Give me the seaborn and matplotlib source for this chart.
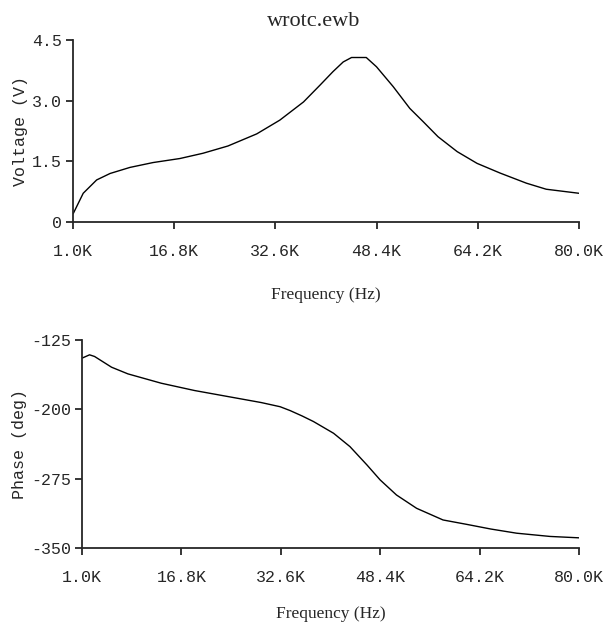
import numpy as np
import pandas as pd
import matplotlib
matplotlib.use("Agg")
import matplotlib.pyplot as plt
import seaborn as sns

# =====================================================
# DATA
# =====================================================
freq_v_khz = [1.05, 2.6, 4.7, 6.8, 9.9, 13.5, 17.7, 21.3, 25.2, 29.7,
              33.3, 37.0, 39.6, 41.6, 43.2, 44.5, 46.8, 48.4, 51.0, 53.6,
              55.7, 58.0, 61.0, 64.1, 67.7, 71.8, 74.9, 80.0]
voltage = [0.21, 0.71, 1.04, 1.20, 1.35, 1.47, 1.57, 1.70, 1.88, 2.18,
           2.52, 2.97, 3.39, 3.72, 3.96, 4.07, 4.07, 3.84, 3.35, 2.81,
           2.48, 2.11, 1.74, 1.45, 1.21, 0.96, 0.81, 0.71]

freq_p_khz = [1.0, 2.2, 3.0, 5.7, 8.3, 13.6, 18.9, 24.2, 29.5, 32.5,
              34.1, 36.0, 37.8, 41.0, 43.6, 46.3, 48.4, 51.0, 54.2, 58.4,
              62.2, 66.0, 70.1, 75.4, 80.0]
phase = [-144.8, -141.2, -143.0, -154.6, -161.8, -171.9, -179.8, -186.3, -192.8, -197.3,
         -201.5, -207.3, -213.3, -226.0, -240.4, -260.2, -276.4, -292.7, -307.1, -319.7,
         -324.5, -329.5, -334.0, -337.5, -339.0]

x_ticks = [1.0, 16.8, 32.6, 48.4, 64.2, 80.0]
x_ticklabels = ["1.0K", "16.8K", "32.6K", "48.4K", "64.2K", "80.0K"]
v_ticks = [0, 1.5, 3.0, 4.5]
v_ticklabels = ["0", "1.5", "3.0", "4.5"]
p_ticks = [-350, -275, -200, -125]
p_ticklabels = ["-350", "-275", "-200", "-125"]

volt_df = pd.DataFrame({"freq": freq_v_khz, "volt": voltage})
phase_df = pd.DataFrame({"freq": freq_p_khz, "phase": phase})

# =====================================================
# FIGURE
# =====================================================
sns.set_style("ticks")
plt.rcParams.update({
    "axes.linewidth": 1.3,
    "xtick.major.width": 1.3,
    "ytick.major.width": 1.3,
    "xtick.major.size": 5,
    "ytick.major.size": 5,
})

mono = "Liberation Mono"
serif = "Liberation Serif"

fig = plt.figure(figsize=(6.03, 6.27), dpi=100)
ax1 = fig.add_axes([0.121, 0.646, 0.839, 0.290])
ax2 = fig.add_axes([0.136, 0.126, 0.824, 0.332])

sns.lineplot(data=volt_df, x="freq", y="volt", ax=ax1, color="black", linewidth=1.0)
sns.lineplot(data=phase_df, x="freq", y="phase", ax=ax2, color="black", linewidth=1.0)

for ax, yt, ytl, ylim, ylabel, xpad in [
    (ax1, v_ticks, v_ticklabels, (0, 4.5), "Voltage (V)", 20),
    (ax2, p_ticks, p_ticklabels, (-350, -125), "Phase (deg)", 15),
]:
    sns.despine(ax=ax)
    ax.set_xlim(1.0, 80.0)
    ax.set_ylim(*ylim)
    ax.set_xticks(x_ticks)
    ax.set_xticklabels(x_ticklabels, fontfamily=mono, fontsize=12)
    ax.set_yticks(yt)
    ax.set_yticklabels(ytl, fontfamily=mono, fontsize=12)
    ax.tick_params(axis="x", pad=11)
    ax.tick_params(axis="y", pad=3)
    ax.set_xlabel("Frequency (Hz)", fontfamily=serif, fontsize=12.5, labelpad=xpad)
    ax.set_ylabel(ylabel, fontfamily=mono, fontsize=12, labelpad=3)

fig.text(0.521, 0.965, "wrotc.ewb", ha="center", va="center",
         fontfamily=serif, fontsize=16)

fig.savefig("out.png", dpi=100)
